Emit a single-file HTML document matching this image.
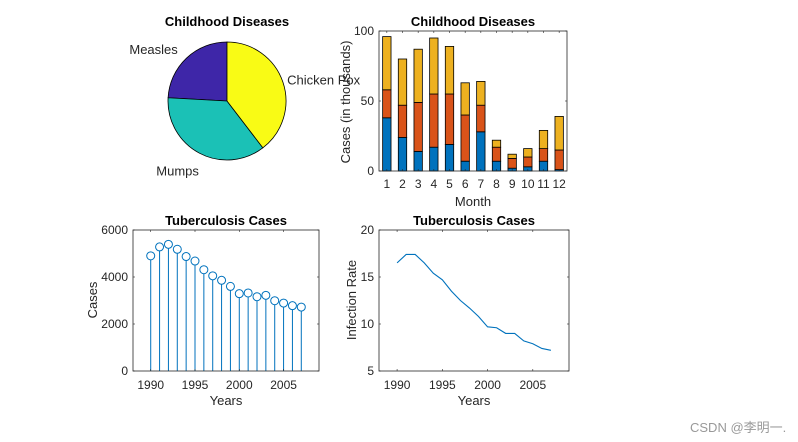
<!DOCTYPE html>
<html><head><meta charset="utf-8"><style>
body{margin:0;background:#fff;}
svg{display:block;font-family:"Liberation Sans",Arial,sans-serif;}
.t{font-size:12px;fill:#262626;}
.ti{font-size:13px;font-weight:bold;fill:#000;}
.lb{font-size:13px;fill:#262626;}
</style></head><body>
<svg id="c" width="798" height="442" xmlns="http://www.w3.org/2000/svg">
<rect width="798" height="442" fill="#fff"/>
<text x="690" y="432" font-size="13" fill="#999" font-family="Liberation Sans, Noto Sans CJK SC, sans-serif">CSDN @李明一.</text>
</svg>
<script>
const months=[1,2,3,4,5,6,7,8,9,10,11,12];
const measles=[38,24,14,17,19,7,28,7,2,3,7,1];
const mumps=[20,23,35,38,36,33,19,10,7,7,9,14];
const chickenPox=[38,33,38,40,34,23,17,5,3,6,13,24];
const pieLabels=['Measles','Mumps','Chicken Pox'];
const pieValues=[167,251,274];
const years=[1990,1991,1992,1993,1994,1995,1996,1997,1998,1999,2000,2001,2002,2003,2004,2005,2006,2007];
const tbCases=[4900,5280,5390,5180,4870,4680,4310,4050,3860,3600,3290,3320,3160,3220,2990,2890,2780,2720];
const infRate=[16.5,17.4,17.4,16.5,15.4,14.7,13.5,12.5,11.7,10.8,9.7,9.6,9.0,9.0,8.2,7.9,7.4,7.2];
const yearTicks=[1990,1995,2000,2005];
const barTicks=[0,50,100];
const caseTicks=[0,2000,4000,6000];
const rateTicks=[5,10,15,20];

const svg=document.getElementById('c');
const NS='http://www.w3.org/2000/svg';
function mk(tag,attrs,parent){const e=document.createElementNS(NS,tag);for(const k in attrs)e.setAttribute(k,attrs[k]);(parent||svg).appendChild(e);return e;}
function txt(x,y,s,cls,anchor,extra){const e=mk('text',Object.assign({x:x,y:y,class:cls,'text-anchor':anchor||'middle'},extra||{}));e.textContent=s;return e;}

// ---- Pie ----
txt(227,26,'Childhood Diseases','ti');
const cx=227,cy=101,r=59;
const pieColors=['#3e26a8','#1bc1b6','#f9fb15'];
const labelNudge=[[1,1],[6,5],[-9,2]];
const total=pieValues.reduce((a,b)=>a+b,0);
let ang=90;
const labelPos=[];
pieValues.forEach((v,i)=>{
  const sweep=v/total*360;const a0=ang*Math.PI/180,a1=(ang+sweep)*Math.PI/180;
  const x0=cx+r*Math.cos(a0),y0=cy-r*Math.sin(a0),x1=cx+r*Math.cos(a1),y1=cy-r*Math.sin(a1);
  const p=mk('path',{d:`M${cx},${cy}L${x0},${y0}A${r},${r} 0 ${sweep>180?1:0} 0 ${x1},${y1}Z`,fill:pieColors[i],stroke:'#000','stroke-width':0.8});
  
  
  const mid=(ang+sweep/2)*Math.PI/180;
  labelPos.push([cx+(r+14)*Math.cos(mid),cy-(r+14)*Math.sin(mid),Math.cos(mid)]);
  ang+=sweep;
});
pieLabels.forEach((l,i)=>{
  const [x,y,c]=labelPos[i];
  const t=txt(x+labelNudge[i][0],y+5+labelNudge[i][1],l,'lb',c<-0.2?'end':(c>0.2?'start':'middle'));
  
  
});

// ---- Bar ----
const bL=379,bR=567,bT=31,bB=171;
const bx=m=>bL+(m-0.5)/12*(bR-bL);
const by=v=>bB-v/100*(bB-bT);
const bg=mk('g',{});


const stacks=[measles,mumps,chickenPox];const barCols=['#0072bd','#d95319','#edb120'];
months.forEach((m,i)=>{
  let base=0;
  stacks.forEach((s,k)=>{
    const b=mk('rect',{x:bx(m)-4.2,y:by(base+s[i]),width:8.4,height:by(base)-by(base+s[i]),fill:barCols[k],stroke:'#000','stroke-width':0.8},bg);
    
    
    base+=s[i];
  });
  const t=txt(bx(m),bB+17,String(m),'t','middle');
  
  
  mk('line',{x1:bx(m),x2:bx(m),y1:bB,y2:bB-2,stroke:'#262626','stroke-width':0.6});
  mk('line',{x1:bx(m),x2:bx(m),y1:bT,y2:bT+2,stroke:'#262626','stroke-width':0.6});
});
barTicks.forEach(v=>{
  const t=txt(bL-5,by(v)+4,String(v),'t','end');
  
  
  mk('line',{x1:bL,x2:bL+2,y1:by(v),y2:by(v),stroke:'#262626','stroke-width':0.6});
  mk('line',{x1:bR,x2:bR-2,y1:by(v),y2:by(v),stroke:'#262626','stroke-width':0.6});
});
mk('rect',{x:bL,y:bT,width:bR-bL,height:bB-bT,fill:'none',stroke:'#262626','stroke-width':0.8});
txt(473,26,'Childhood Diseases','ti');
txt(473,206,'Month','lb');
txt(0,0,'Cases (in thousands)','lb','middle',{transform:`translate(350,102) rotate(-90)`});

// ---- Stem ----
const sL=133,sR=319,sT=230,sB=371;
const sx=y=>sL+(y-1988)/21*(sR-sL);
const sy=v=>sB-v/6000*(sB-sT);
years.forEach((yr,i)=>{
  mk('line',{x1:sx(yr),x2:sx(yr),y1:sB,y2:sy(tbCases[i])+4,stroke:'#0072bd','stroke-width':1});
  const c=mk('circle',{cx:sx(yr),cy:sy(tbCases[i]),r:4,fill:'#fff',stroke:'#0072bd','stroke-width':1});
  
  
});
caseTicks.forEach(v=>{
  txt(sL-5,sy(v)+4,String(v),'t','end');
  mk('line',{x1:sL,x2:sL+2,y1:sy(v),y2:sy(v),stroke:'#262626','stroke-width':0.6});
  mk('line',{x1:sR,x2:sR-2,y1:sy(v),y2:sy(v),stroke:'#262626','stroke-width':0.6});
});
yearTicks.forEach(v=>{
  txt(sx(v),sB+18,String(v),'t');
  mk('line',{x1:sx(v),x2:sx(v),y1:sB,y2:sB-2,stroke:'#262626','stroke-width':0.6});
  mk('line',{x1:sx(v),x2:sx(v),y1:sT,y2:sT+2,stroke:'#262626','stroke-width':0.6});
});
mk('rect',{x:sL,y:sT,width:sR-sL,height:sB-sT,fill:'none',stroke:'#262626','stroke-width':0.8});
txt(226,225,'Tuberculosis Cases','ti');
txt(226,405,'Years','lb');
txt(0,0,'Cases','lb','middle',{transform:`translate(97,300) rotate(-90)`});

// ---- Line ----
const lL=379,lR=569,lT=230,lB=371;
const lx=y=>lL+(y-1988)/21*(lR-lL);
const ly=v=>lB-(v-5)/15*(lB-lT);
const pl=mk('polyline',{points:years.map((y,i)=>lx(y)+','+ly(infRate[i])).join(' '),fill:'none',stroke:'#0072bd','stroke-width':1.1});


rateTicks.forEach(v=>{
  txt(lL-5,ly(v)+4,String(v),'t','end');
  mk('line',{x1:lL,x2:lL+2,y1:ly(v),y2:ly(v),stroke:'#262626','stroke-width':0.6});
  mk('line',{x1:lR,x2:lR-2,y1:ly(v),y2:ly(v),stroke:'#262626','stroke-width':0.6});
});
yearTicks.forEach(v=>{
  txt(lx(v),lB+18,String(v),'t');
  mk('line',{x1:lx(v),x2:lx(v),y1:lB,y2:lB-2,stroke:'#262626','stroke-width':0.6});
  mk('line',{x1:lx(v),x2:lx(v),y1:lT,y2:lT+2,stroke:'#262626','stroke-width':0.6});
});
mk('rect',{x:lL,y:lT,width:lR-lL,height:lB-lT,fill:'none',stroke:'#262626','stroke-width':0.8});
txt(474,225,'Tuberculosis Cases','ti');
txt(474,405,'Years','lb');
txt(0,0,'Infection Rate','lb','middle',{transform:`translate(356,300) rotate(-90)`});
</script>
</body></html>
